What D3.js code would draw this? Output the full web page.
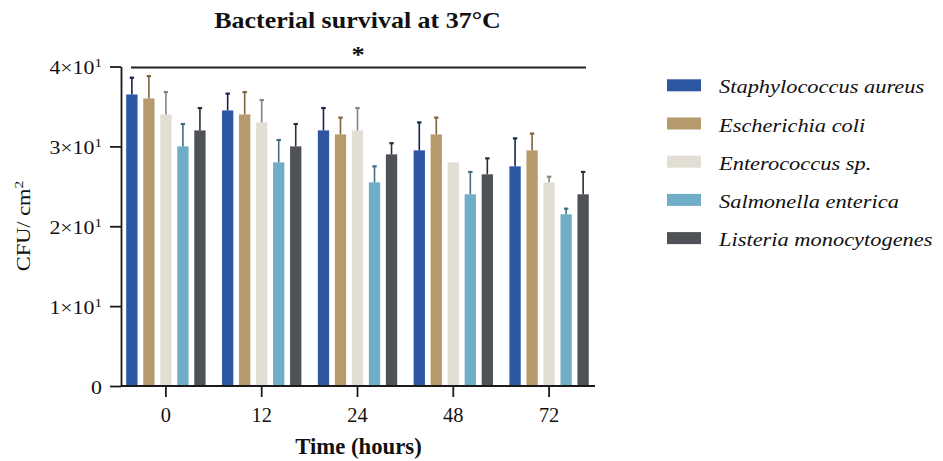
<!DOCTYPE html>
<html>
<head>
<meta charset="utf-8">
<script src="https://cdn.jsdelivr.net/npm/d3@7"></script>
<style>
  body { margin: 0; background: #fff; }
  text { font-family: "Liberation Serif", "Times New Roman", serif; fill: #111; }
</style>
</head>
<body>
<script>
// data
var times = ["0", "12", "24", "48", "72"];
var species = ["Staphylococcus aureus", "Escherichia coli", "Enterococcus sp.",
               "Salmonella enterica", "Listeria monocytogenes"];
var saureus    = [36.5, 34.5, 32, 29.5, 27.5];
var ecoli      = [36, 34, 31.5, 31.5, 29.5];
var entero     = [34, 33, 32, 28, 25.5];
var salmonella = [30, 28, 25.5, 24, 21.5];
var listeria   = [32, 30, 29, 26.5, 24];
var saureusSD    = [2.1, 2.1, 2.8, 3.5, 3.5];
var ecoliSD      = [2.8, 2.8, 2.1, 2.1, 2.1];
var enteroSD     = [2.8, 2.8, 2.8, 0, 0.7];
var salmonellaSD = [2.8, 2.8, 2.0, 2.8, 0.7];
var listeriaSD   = [2.8, 2.8, 1.4, 2.0, 2.8];
var yTicks = [0, 10, 20, 30, 40];

var colors    = ["#2d56a3", "#b59a6d", "#e2ded4", "#70aec8", "#4f5257"];
var errColors = ["#15244a", "#7d6340", "#85857f", "#3f6f80", "#2c2e31"];

var width = 943, height = 461;

var means = [saureus, ecoli, entero, salmonella, listeria];
var sds = [saureusSD, ecoliSD, enteroSD, salmonellaSD, listeriaSD];

var rows = [];
times.forEach(function(t, i) {
  species.forEach(function(s, j) {
    rows.push({time: t, sp: s, k: j, mean: means[j][i], sd: sds[j][i]});
  });
});

var svg = d3.select("body").append("svg")
    .attr("width", width)
    .attr("height", height);

// text helper; sx widens glyphs a little, the source font runs wider than Liberation Serif
function label(g, x, y, str, anchor, size, sx, weight, style) {
  return g.append("text")
      .attr("transform", "translate(" + x + "," + y + ") scale(" + sx + ",1)")
      .attr("text-anchor", anchor || "start")
      .style("font-size", size + "px")
      .style("font-weight", weight || "normal")
      .style("font-style", style || "normal")
      .text(str);
}

var axisX = 121, plotRight = 597;

var x0 = d3.scaleBand().domain(times).range([118, plotRight])
    .paddingInner(0.112).paddingOuter(0.056);
var x1 = d3.scaleBand().domain(species).range([0, x0.bandwidth()])
    .paddingInner(0.335).paddingOuter(0.1675);
var y = d3.scaleLinear().domain([0, 40]).range([386, 66.5]);

// bars
var bars = svg.append("g");
bars.selectAll("rect")
    .data(rows)
    .enter().append("rect")
    .attr("x", function(d) { return x0(d.time) + x1(d.sp); })
    .attr("y", function(d) { return y(d.mean); })
    .attr("width", x1.bandwidth())
    .attr("height", function(d) { return y(0) - y(d.mean); })
    .style("fill", function(d) { return colors[d.k]; });

// error bars (upper only)
var err = svg.append("g").selectAll("g")
    .data(rows.filter(function(d) { return d.sd > 0; }))
    .enter().append("g")
    .style("stroke", function(d) { return errColors[d.k]; })
    .style("stroke-width", 1.6);
err.append("line")
    .attr("x1", function(d) { return x0(d.time) + x1(d.sp) + x1.bandwidth() / 2; })
    .attr("x2", function(d) { return x0(d.time) + x1(d.sp) + x1.bandwidth() / 2; })
    .attr("y1", function(d) { return y(d.mean); })
    .attr("y2", function(d) { return y(d.mean + d.sd); });
err.append("line")
    .attr("x1", function(d) { return x0(d.time) + x1(d.sp) + x1.bandwidth() / 2 - 2.2; })
    .attr("x2", function(d) { return x0(d.time) + x1(d.sp) + x1.bandwidth() / 2 + 2.2; })
    .attr("y1", function(d) { return y(d.mean + d.sd); })
    .attr("y2", function(d) { return y(d.mean + d.sd); })
    .style("stroke-width", 2.2);

// y axis
var gy = svg.append("g")
    .attr("transform", "translate(" + axisX + ",0)")
    .call(d3.axisLeft(y).tickValues(yTicks).tickSize(11).tickSizeOuter(0).tickFormat(""));
gy.selectAll(".tick").each(function(d) {
  var t = label(d3.select(this), -19, 7, d === 0 ? "0" : (d / 10) + "×10", "end", 19.5, 1.12);
  if (d !== 0) {
    t.append("tspan").attr("dy", "-0.5em").style("font-size", "13.5px").text("1");
  }
});

// x axis
var gx = svg.append("g")
    .attr("transform", "translate(0," + y(0) + ")")
    .call(d3.axisBottom(x0).tickSize(11).tickSizeOuter(0).tickFormat(""));
gx.select(".domain").attr("d", "M" + axisX + ",0H" + (plotRight - 2));
gx.selectAll(".tick").each(function(d) {
  label(d3.select(this), 0, 36, d, "middle", 20, 1.02);
});

svg.selectAll(".domain, .tick line").style("stroke", "#1a1a1a").style("stroke-width", 1.8);

// significance bar
svg.append("line")
    .attr("x1", 131).attr("x2", 586)
    .attr("y1", 67.5).attr("y2", 67.5)
    .style("stroke", "#222").style("stroke-width", 2);
label(svg, 358, 62, "*", "middle", 24, 1.1, "bold");

// titles
label(svg, 357.5, 28, "Bacterial survival at 37°C", "middle", 23, 1.13, "bold");
label(svg, 358.5, 454, "Time (hours)", "middle", 22.5, 1.01, "bold");

var yl = svg.append("text")
    .attr("transform", "translate(30,226) rotate(-90) scale(1.15,1)")
    .attr("text-anchor", "middle")
    .style("font-size", "19.5px")
    .text("CFU/ cm");
yl.append("tspan").attr("dy", "-0.5em").style("font-size", "13.5px").text("2");

// legend
var legend = svg.append("g").selectAll("g")
    .data(species)
    .enter().append("g")
    .attr("transform", function(d, i) { return "translate(667," + (85.3 + i * 38.2) + ")"; });
legend.append("rect")
    .attr("x", 0).attr("y", -6)
    .attr("width", 34).attr("height", 12)
    .style("fill", function(d, i) { return colors[i]; });
legend.each(function(d) {
  label(d3.select(this), 52, 8, d, "start", 19.5, 1.15, "normal", "italic");
});
</script>
</body>
</html>
